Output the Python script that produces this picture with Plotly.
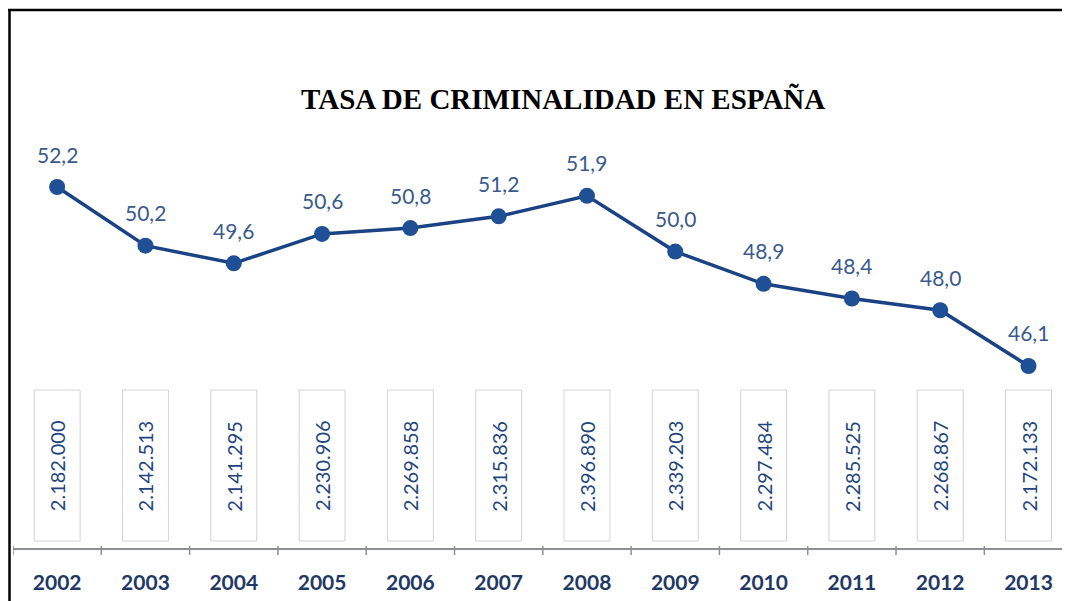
import plotly.graph_objects as go

years = ["2002", "2003", "2004", "2005", "2006", "2007", "2008", "2009", "2010", "2011", "2012", "2013"]
rates = [52.2, 50.2, 49.6, 50.6, 50.8, 51.2, 51.9, 50.0, 48.9, 48.4, 48.0, 46.1]
rate_labels = ["52,2", "50,2", "49,6", "50,6", "50,8", "51,2", "51,9", "50,0", "48,9", "48,4", "48,0", "46,1"]
crimes = ["2.182.000", "2.142.513", "2.141.295", "2.230.906", "2.269.858", "2.315.836",
          "2.396.890", "2.339.203", "2.297.484", "2.285.525", "2.268.867", "2.172.133"]
title_text = "TASA DE CRIMINALIDAD EN ESPAÑA"

# page has an 8px body margin: work in page pixels and convert
OFF = 8
W, H = 1070 - OFF, 601 - OFF
AX_Y = 548          # page y of the category axis line
TOP_Y = 130         # page y of the plot-area top
LEFT_X = 13         # page x of the plot-area left
ML, MT, MB = LEFT_X - OFF, TOP_Y - OFF, (601 - AX_Y)
plot_h = AX_Y - TOP_Y
plot_w = 1070 - LEFT_X

def py(p):
    return (AX_Y - p) / plot_h

def px(p):
    return (p - LEFT_X) / plot_w

idx = list(range(len(years)))

fig = go.Figure()
fig.add_trace(go.Scatter(
    x=idx, y=rates, mode="lines+markers",
    line=dict(color="#1b4384", width=3.5),
    marker=dict(color="#1f4f95", size=16),
    hoverinfo="skip", showlegend=False,
))

annotations = []
for i, r, lab in zip(idx, rates, rate_labels):
    annotations.append(dict(x=i, y=r, xref="x", yref="y", text=lab, showarrow=False,
                            yshift=33, font=dict(family="Lato", size=21, color="#3a5a8c")))

shapes = []
for i, c in zip(idx, crimes):
    shapes.append(dict(type="rect", xref="x", yref="paper", x0=i - 0.26, x1=i + 0.26,
                       y0=py(541), y1=py(390), line=dict(color="#cfd3d8", width=1),
                       fillcolor="white", layer="below"))
    annotations.append(dict(x=i, y=py(466), xref="x", yref="paper", text=c, showarrow=False,
                            textangle=-90, yanchor="middle", xanchor="center",
                            font=dict(family="Lato", size=20, color="#24457c")))

annotations.append(dict(x=px(563), y=py(99), xref="paper", yref="paper", text="<b>" + title_text + "</b>",
                        showarrow=False, xanchor="center", yanchor="middle",
                        font=dict(family="Liberation Serif", size=29, color="#000000")))

# frame
shapes.append(dict(type="line", xref="paper", yref="paper", x0=px(8), x1=px(1070), y0=py(10), y1=py(10),
                   line=dict(color="#000000", width=2.5)))
shapes.append(dict(type="line", xref="paper", yref="paper", x0=px(9.5), x1=px(9.5), y0=py(10), y1=py(601),
                   line=dict(color="#000000", width=2.5)))

# boundary tick marks between categories
for i in idx:
    shapes.append(dict(type="line", xref="x", yref="paper", x0=i - 0.5, x1=i - 0.5,
                       y0=py(AX_Y + 7), y1=py(AX_Y - 2), line=dict(color="#8c9094", width=1.5)))

fig.update_layout(
    width=W, height=H,
    margin=dict(l=ML, r=0, t=MT, b=MB),
    paper_bgcolor="white", plot_bgcolor="white",
    annotations=annotations, shapes=shapes,
    xaxis=dict(range=[-0.5, 11.47], showgrid=False, zeroline=False,
               tickmode="array", tickvals=idx, ticktext=years,
               showline=True, linecolor="#8c9094", linewidth=1.5,
               ticks="", ticklabelstandoff=15,
               tickfont=dict(family="Lato", size=21, color="#1f3864", weight="bold")),
    yaxis=dict(range=[39.897, 54.143], visible=False, showgrid=False, zeroline=False),
)

fig.write_html("out.html")
